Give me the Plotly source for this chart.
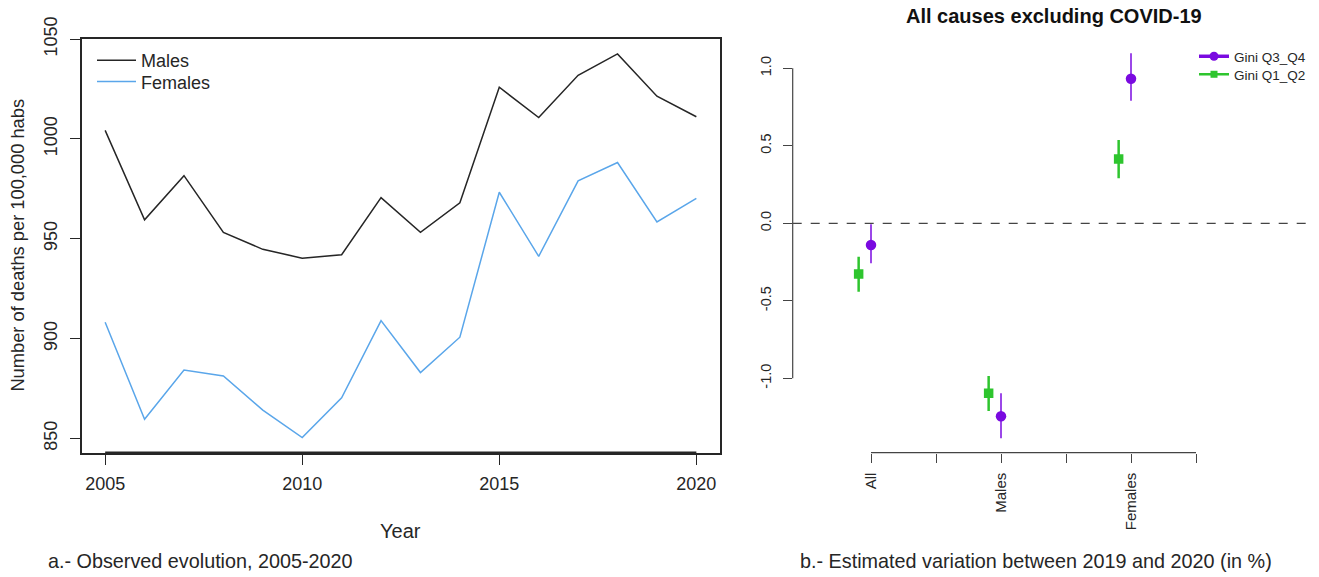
import plotly.graph_objects as go

# ---------------- data ----------------
years = list(range(2005, 2021))
males = [1004.3, 959.5, 981.6, 953.2, 944.7, 940.3, 942.0, 970.6,
         953.2, 968.0, 1025.9, 1010.7, 1031.9, 1042.6, 1021.4, 1011.1]
females = [908.2, 859.6, 884.3, 881.3, 864.2, 850.4, 870.3, 909.0,
           883.0, 900.7, 973.3, 941.2, 979.0, 988.2, 958.4, 970.2]
left_yticks = [850, 900, 950, 1000, 1050]
left_xticks = [2005, 2010, 2015, 2020]

categories = ["All", "Males", "Females"]
cat_pos = [1, 2, 3]
q34_est = [-0.140, -1.245, 0.933]
q34_lo = [-0.258, -1.387, 0.791]
q34_hi = [-0.006, -1.097, 1.097]
q12_est = [-0.327, -1.097, 0.415]
q12_lo = [-0.441, -1.211, 0.290]
q12_hi = [-0.215, -0.985, 0.537]
right_yticks = [-1.0, -0.5, 0.0, 0.5, 1.0]
right_yticklabels = ["-1.0", "-0.5", "0.0", "0.5", "1.0"]
right_xticks = [1, 1.5, 2, 2.5, 3, 3.5]
right_xticklabels = ["All", "", "Males", "", "Females", ""]

# ---------------- styling ----------------
W, H = 1319, 577
FONT = "Liberation Sans, Arial, sans-serif"
BLACK = "#262626"
BLUE = "#5aa6ea"
PURPLE = "#7a0ae0"
GREEN = "#2ec52e"
OFFSET = 0.095

def px(x):
    return x / W

def py(y):
    return 1 - y / H

fig = go.Figure()

fig.add_trace(go.Scatter(x=years, y=males, mode="lines", name="Males",
                         line=dict(color=BLACK, width=1.5),
                         xaxis="x", yaxis="y", legend="legend"))
fig.add_trace(go.Scatter(x=years, y=females, mode="lines", name="Females",
                         line=dict(color=BLUE, width=1.5),
                         xaxis="x", yaxis="y", legend="legend3"))

# right panel: estimates with CI
fig.add_trace(go.Scatter(
    x=cat_pos, y=q34_est, mode="markers", showlegend=False,
    marker=dict(symbol="circle", size=10.5, color=PURPLE),
    error_y=dict(type="data", symmetric=False,
                 array=[h - e for h, e in zip(q34_hi, q34_est)],
                 arrayminus=[e - l for e, l in zip(q34_est, q34_lo)],
                 color=PURPLE, thickness=1.5, width=0),
    xaxis="x2", yaxis="y2"))
fig.add_trace(go.Scatter(
    x=[p - OFFSET for p in cat_pos], y=q12_est, mode="markers", showlegend=False,
    marker=dict(symbol="square", size=9.5, color=GREEN),
    error_y=dict(type="data", symmetric=False,
                 array=[h - e for h, e in zip(q12_hi, q12_est)],
                 arrayminus=[e - l for e, l in zip(q12_est, q12_lo)],
                 color=GREEN, thickness=2.5, width=0),
    xaxis="x2", yaxis="y2"))

# legend entries for right panel
fig.add_trace(go.Scatter(x=[None], y=[None], mode="lines+markers", name="Gini Q3_Q4",
                         line=dict(color=PURPLE, width=3.5),
                         marker=dict(symbol="circle", size=9, color=PURPLE),
                         xaxis="x2", yaxis="y2", legend="legend2"))
fig.add_trace(go.Scatter(x=[None], y=[None], mode="lines+markers", name="Gini Q1_Q2",
                         line=dict(color=GREEN, width=2.5),
                         marker=dict(symbol="square", size=7, color=GREEN),
                         xaxis="x2", yaxis="y2", legend="legend4"))

r2_left = 1 - (871 - 792.7) / 130
r2_right = 1 + (1312 - 871) / 130
y2_bot = -(452.7 - 223.3) / 155
y2_top = (223.3 - 40) / 155

shapes = [
    # thick bottom axis line on left panel
    dict(type="line", xref="x", yref="y domain", x0=2005, x1=2020, y0=0, y1=0,
         line=dict(color=BLACK, width=3)),
    # right panel axis lines (R style, only across tick range)
    dict(type="line", xref="x2 domain", yref="y2", x0=0, x1=0, y0=-1, y1=1,
         line=dict(color="#444", width=1.2)),
    dict(type="line", xref="x2", yref="y2 domain", x0=1, x1=3.5, y0=0, y1=0,
         line=dict(color="#444", width=1.2)),
    # zero reference line
    dict(type="line", xref="x2 domain", yref="y2", x0=0, x1=1, y0=0, y1=0,
         line=dict(color="#444", width=1.3, dash="dash")),
]

annotations = [
    dict(text="Year", x=px(400), y=py(531), xref="paper", yref="paper",
         showarrow=False, font=dict(size=20, color=BLACK), xanchor="center", yanchor="middle"),
    dict(text="Number of deaths per 100,000 habs", x=px(18), y=py(245.6),
         xref="paper", yref="paper", textangle=-90, showarrow=False,
         font=dict(size=18.3, color=BLACK), xanchor="center", yanchor="middle"),
    dict(text="a.- Observed evolution, 2005-2020", x=px(200), y=py(561),
         xref="paper", yref="paper", showarrow=False,
         font=dict(size=19.8, color=BLACK), xanchor="center", yanchor="middle"),
    dict(text="b.- Estimated variation between 2019 and 2020 (in %)", x=px(1036), y=py(561),
         xref="paper", yref="paper", showarrow=False,
         font=dict(size=19.8, color=BLACK), xanchor="center", yanchor="middle"),
    dict(text="<b>All causes excluding COVID-19</b>", x=px(1054), y=py(16.5),
         xref="paper", yref="paper", showarrow=False,
         font=dict(size=20, color="#111"), xanchor="center", yanchor="middle"),
]

leg_common = dict(xanchor="left", yanchor="top", bgcolor="rgba(0,0,0,0)",
                  tracegroupgap=0)

fig.update_layout(
    width=W, height=H,
    margin=dict(l=0, r=0, t=0, b=0, autoexpand=False),
    paper_bgcolor="white", plot_bgcolor="white",
    font=dict(family=FONT, color=BLACK),
    xaxis=dict(domain=[px(81.5), px(720)], range=[2004.4, 2020.6],
               tickvals=left_xticks, ticks="outside", ticklen=10, tickwidth=1.2,
               tickcolor=BLACK, tickfont=dict(size=18, color=BLACK),
               ticklabelstandoff=4,
               showline=True, mirror=True, linecolor=BLACK, linewidth=1.5,
               showgrid=False, zeroline=False, anchor="y", automargin=False),
    yaxis=dict(domain=[py(453), py(38.5)], range=[842.7, 1050.3],
               tickvals=left_yticks, ticks="outside", ticklen=10, tickwidth=1.2,
               tickcolor=BLACK, tickangle=-90, tickfont=dict(size=18, color=BLACK),
               ticklabelstandoff=6,
               showline=True, mirror=True, linecolor=BLACK, linewidth=1.5,
               showgrid=False, zeroline=False, anchor="x", automargin=False),
    xaxis2=dict(domain=[px(792.7), px(1312)], range=[r2_left, r2_right],
                tickvals=right_xticks, ticktext=right_xticklabels, tickangle=-90,
                ticks="outside", ticklen=9, tickwidth=1.2, tickcolor="#444",
                tickfont=dict(size=15, color=BLACK), ticklabelstandoff=4,
                showline=False, showgrid=False, zeroline=False, anchor="y2",
                automargin=False),
    yaxis2=dict(domain=[py(452.7), py(40)], range=[y2_bot, y2_top],
                tickvals=right_yticks, ticktext=right_yticklabels, tickangle=-90,
                ticks="outside", ticklen=9, tickwidth=1.2, tickcolor="#444",
                tickfont=dict(size=14.5, color=BLACK), ticklabelstandoff=6,
                showline=False, showgrid=False, zeroline=False, anchor="x2",
                automargin=False),
    legend=dict(x=px(92), y=py(42), font=dict(size=18, color=BLACK),
                itemwidth=39, **leg_common),
    legend3=dict(x=px(92), y=py(63.3), font=dict(size=18, color=BLACK),
                 itemwidth=39, **leg_common),
    legend2=dict(x=px(1194), y=py(41), font=dict(size=13.5, color=BLACK),
                 itemwidth=30, **leg_common),
    legend4=dict(x=px(1194), y=py(59), font=dict(size=13.5, color=BLACK),
                 itemwidth=30, **leg_common),
    shapes=shapes,
    annotations=annotations,
)

fig.write_html("out.html", config={"displayModeBar": False},
               post_script="document.body.style.margin='0px';")
